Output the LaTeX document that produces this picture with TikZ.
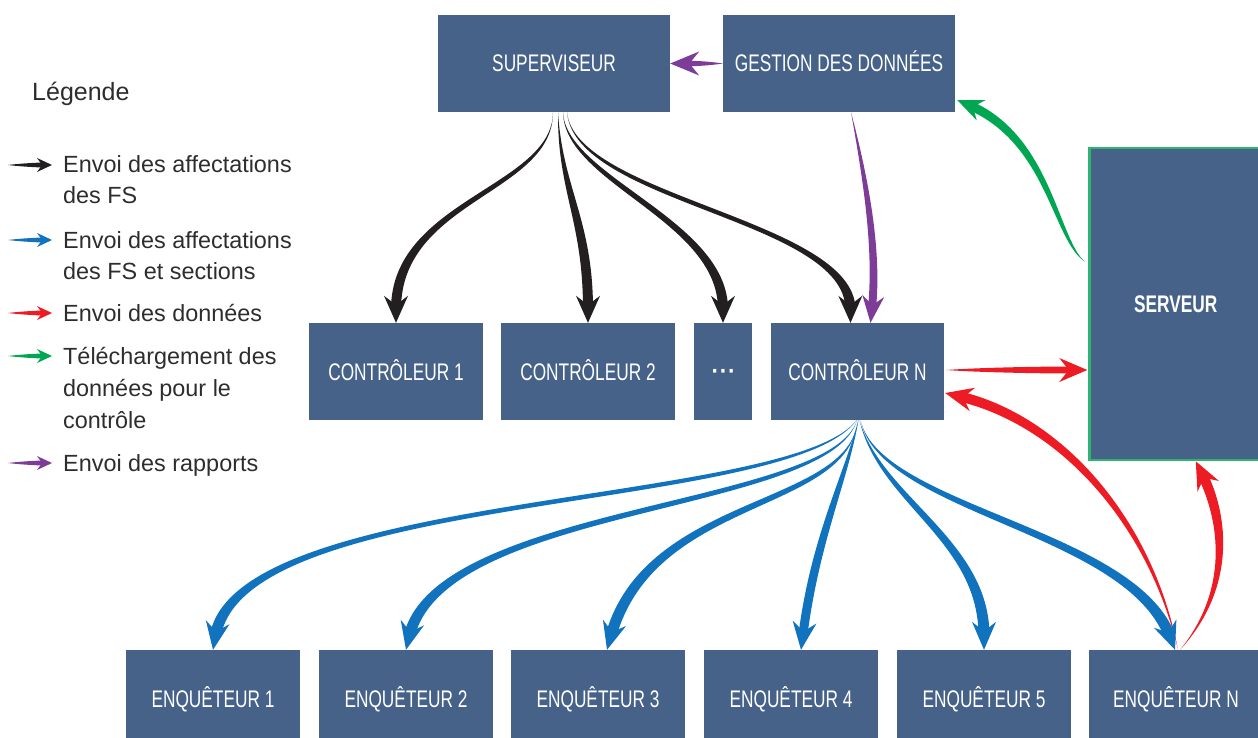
\documentclass[tikz,border=0pt]{standalone}
\usepackage{fontspec}
\setmainfont{Liberation Sans}
\newfontfamily\boxfont{Liberation Sans}[FakeStretch=0.72]
\usetikzlibrary{calc}
\definecolor{boxblue}{RGB}{70,98,136}
\definecolor{arrblack}{RGB}{35,31,32}
\definecolor{arrblue}{RGB}{17,114,189}
\definecolor{arrred}{RGB}{237,28,36}
\definecolor{arrgreen}{RGB}{0,166,81}
\definecolor{arrpurple}{RGB}{125,60,152}
\definecolor{srvgreen}{RGB}{46,180,110}
\definecolor{legtext}{RGB}{45,45,45}
% tapered arrow: #1 colour, #2 start, #3 control 1, #4 control 2, #5 tip,
% #6 head length, #7 half shaft width, #8 half head width
\newcommand\tarrow[8]{%
  \coordinate (tS) at (#2);
  \coordinate (tA) at (#3);
  \coordinate (tB) at (#4);
  \coordinate (tT) at (#5);
  \pgfmathsetmacro\tL{#6}%
  \pgfmathsetmacro\tN{0.66*#6}%
  \pgfmathsetmacro\tP{0.5*#6}%
  \pgfmathsetmacro\tW{0.7*#7}%
  \coordinate (tb) at ($(tT)!\tL pt!(tB)$);
  \coordinate (tn) at ($(tT)!\tN pt!(tB)$);
  \coordinate (tp) at ($(tT)!\tP pt!(tB)$);
  \coordinate (tp1) at ($(tp)!#7pt!90:(tT)$);
  \coordinate (tp2) at ($(tp)!#7pt!-90:(tT)$);
  \coordinate (tc1) at ($(tB)+(tp1)-(tp)$);
  \coordinate (tc2) at ($(tB)+(tp2)-(tp)$);
  \coordinate (ta1) at ($(tA)!\tW pt!90:(tB)$);
  \coordinate (ta2) at ($(tA)!\tW pt!-90:(tB)$);
  \coordinate (tb1) at ($(tb)!#8pt!90:(tT)$);
  \coordinate (tb2) at ($(tb)!#8pt!-90:(tT)$);
  \fill[#1] (tS) .. controls (ta1) and (tc1) .. (tp1) -- (tp2) .. controls (tc2) and (ta2) .. (tS) -- cycle;
  \fill[#1] (tT) -- (tb1) -- (tn) -- (tb2) -- cycle;
}
\begin{document}
\begin{tikzpicture}[x=1pt,y=-1pt,
  box/.style={fill=boxblue, text=white, font=\boxfont\fontsize{24}{28}\selectfont,
    inner sep=0pt, minimum height=97pt, text height=17pt, text depth=0pt},
  leg/.style={text=legtext, font=\fontsize{23.4}{31}\selectfont, inner sep=0pt, anchor=base west}]
\useasboundingbox (0,0) rectangle (1258,738);

% boxes
\node[box, minimum width=232pt] (sup) at (554,63.5) {SUPERVISEUR};
\node[box, minimum width=232pt] (ges) at (839,63.5) {GESTION DES DONNÉES};
\node[box, minimum width=174pt] (c1) at (396,371.5) {CONTRÔLEUR 1};
\node[box, minimum width=174pt] (c2) at (588,371.5) {CONTRÔLEUR 2};
\node[box, minimum width=58pt, font=\fontsize{34}{34}\selectfont, text height=17pt] (dots) at (723,371.5) {·\kern-3pt·\kern-3pt·};
\node[box, minimum width=173pt] (cn) at (857.5,371.5) {CONTRÔLEUR N};
\node[box, minimum width=172.5pt, minimum height=312pt, draw=srvgreen, line width=2.5pt,
  font=\boxfont\bfseries\fontsize{24}{28}\selectfont] (srv) at (1175.75,304) {SERVEUR};
\node[box, minimum width=174pt] (e1) at (213,698.5) {ENQUÊTEUR 1};
\node[box, minimum width=174pt] (e2) at (406,698.5) {ENQUÊTEUR 2};
\node[box, minimum width=174pt] (e3) at (598,698.5) {ENQUÊTEUR 3};
\node[box, minimum width=174pt] (e4) at (791,698.5) {ENQUÊTEUR 4};
\node[box, minimum width=174pt] (e5) at (984,698.5) {ENQUÊTEUR 5};
\node[box, minimum width=174pt] (en) at (1176,698.5) {ENQUÊTEUR N};

% legend
\node[leg, font=\fontsize{25}{30}\selectfont] (lt) at (32,101) {Légende};
\node[leg] (l1a) at (63,173) {Envoi des affectations};
\node[leg] (l1b) at (63,204) {des FS};
\node[leg] (l2a) at (63,248) {Envoi des affectations};
\node[leg] (l2b) at (63,279) {des FS et sections};
\node[leg] (l3a) at (63,321) {Envoi des données};
\node[leg] (l4a) at (63,364) {Téléchargement des};
\node[leg] (l4b) at (63,396) {données pour le};
\node[leg] (l4c) at (63,428) {contrôle};
\node[leg] (l5a) at (63,471) {Envoi des rapports};
\coordinate (k1s) at (8,165); \coordinate (k1t) at (52,165);
\coordinate (k2s) at (8,240); \coordinate (k2t) at (52,240);
\coordinate (k3s) at (8,313); \coordinate (k3t) at (52,313);
\coordinate (k4s) at (8,356); \coordinate (k4t) at (52,356);
\coordinate (k5s) at (8,463); \coordinate (k5t) at (52,463);
\tarrow{arrblack}{k1s}{22,165}{40,165}{k1t}{15}{2.5}{7}
\tarrow{arrblue}{k2s}{22,240}{40,240}{k2t}{15}{2.5}{7}
\tarrow{arrred}{k3s}{22,313}{40,313}{k3t}{15}{2.5}{7}
\tarrow{arrgreen}{k4s}{22,356}{40,356}{k4t}{15}{2.5}{7}
\tarrow{arrpurple}{k5s}{22,463}{40,463}{k5t}{15}{2.5}{7}

% black: superviseur -> controleurs
\tarrow{arrblack}{$(sup.south)+(-1,0)$}{553,190}{396,200}{c1.north}{27}{5}{12}
\tarrow{arrblack}{$(sup.south)+(4,0)$}{560,190}{588,220}{c2.north}{27}{5}{12}
\tarrow{arrblack}{$(sup.south)+(9,0)$}{565,180}{723,220}{dots.north}{27}{5}{12}
\tarrow{arrblack}{$(sup.south)+(13,0)$}{575,200}{850,220}{$(cn.north)+(-7,0)$}{27}{5}{12}

% purple
\tarrow{arrpurple}{ges.west}{710,63.5}{690,63.5}{sup.east}{29}{3}{12}
\tarrow{arrpurple}{$(ges.south)+(12,0)$}{866,180}{878,250}{$(cn.north)+(13,0)$}{27}{4}{11}

% green
\tarrow{arrgreen}{$(srv.west)+(-3,-42)$}{1055,240}{1050,140}{$(ges.east)+(2,36.5)$}{26}{4.5}{11}

% red
\tarrow{arrred}{$(cn.east)+(2,-1.5)$}{980,370}{1040,370}{$(srv.west)+(-1,66)$}{28}{3.5}{12}
\tarrow{arrred}{$(en.north)+(2,0)$}{1150,520}{1060,420}{$(cn.east)+(1,21.5)$}{28}{5}{12}
\tarrow{arrred}{$(en.north)+(4,0)$}{1232,590}{1225,520}{$(srv.south)+(20,0)$}{28}{5}{12}

% blue: controleur N -> enqueteurs
\tarrow{arrblue}{$(cn.south)+(-1,0)$}{790,510}{240,490}{e1.north}{28}{5.5}{12}
\tarrow{arrblue}{$(cn.south)+(-0.5,0)$}{830,510}{440,505}{e2.north}{28}{5.5}{12}
\tarrow{arrblue}{$(cn.south)+(0,0)$}{850,510}{650,495}{$(e3.north)+(9,0)$}{28}{5.5}{12}
\tarrow{arrblue}{$(cn.south)+(1,0)$}{845,480}{815,540}{$(e4.north)+(10,0)$}{28}{4.5}{12}
\tarrow{arrblue}{$(cn.south)+(2,0)$}{880,500}{984,540}{e5.north}{28}{5.5}{12}
\tarrow{arrblue}{$(cn.south)+(3,0)$}{880,510}{1130,530}{$(en.north)+(-1,0)$}{28}{5.5}{12}
\end{tikzpicture}
\end{document}
